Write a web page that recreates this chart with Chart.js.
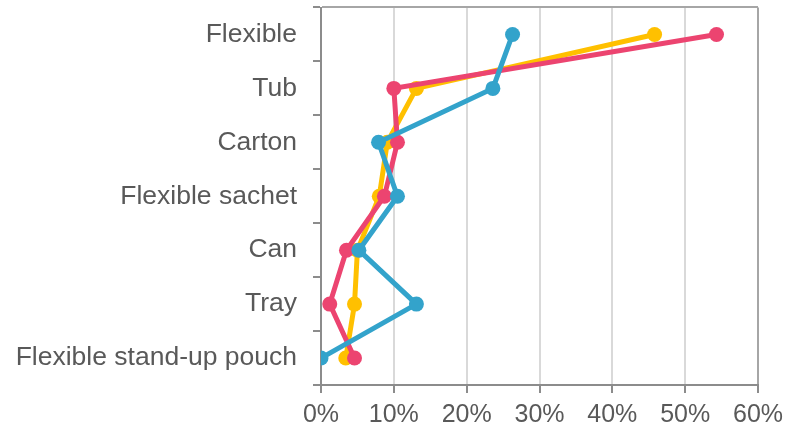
<!DOCTYPE html>
<html>
<head>
<meta charset="utf-8">
<script src="https://cdn.jsdelivr.net/npm/chart.js@4/dist/chart.umd.min.js"></script>
<style>
  html, body { margin: 0; padding: 0; background: #fff; }
  #wrap { width: 798px; height: 439px; }
</style>
</head>
<body>
<div id="wrap"><canvas id="chart"></canvas></div>
<script>
// packaging formats, top to bottom
var categories = ['Flexible', 'Tub', 'Carton', 'Flexible sachet', 'Can', 'Tray', 'Flexible stand-up pouch'];

// shares in percent
var yellowValues = [45.8, 13.1, 9.1, 8.0, 5.0, 4.6, 3.4];
var pinkValues = [54.3, 10.0, 10.5, 8.7, 3.5, 1.2, 4.6];
var blueValues = [26.3, 23.6, 7.9, 10.5, 5.2, 13.1, 0.0];

var xTicks = [0, 10, 20, 30, 40, 50, 60];

var axisGray = '#8c8c8c';
var labelGray = '#595959';

function series(data, color, order) {
	return {
		data: data,
		borderColor: color,
		backgroundColor: color,
		borderWidth: 5,
		pointRadius: 7.5,
		pointHoverRadius: 7.5,
		pointBorderWidth: 0,
		tension: 0,
		order: order
	};
}

Chart.defaults.font.family = '"Liberation Sans", Arial, sans-serif';
Chart.defaults.color = labelGray;

new Chart(document.getElementById('chart'), {
	type: 'line',
	data: {
		labels: categories,
		datasets: [
			series(blueValues, '#33a3cb', 0),
			series(pinkValues, '#ec4470', 1),
			series(yellowValues, '#ffc000', 2)
		]
	},
	options: {
		indexAxis: 'y',
		responsive: true,
		maintainAspectRatio: false,
		animation: false,
		layout: { padding: { top: 7, right: 40, bottom: 0, left: 0 } },
		plugins: {
			legend: { display: false },
			tooltip: { enabled: false }
		},
		scales: {
			x: {
				type: 'linear',
				min: 0,
				max: 60,
				afterBuildTicks: function (scale) {
					scale.ticks = xTicks.map(function (v) { return { value: v }; });
				},
				afterFit: function (scale) { scale.height = 54; },
				border: { color: axisGray, width: 2 },
				grid: {
					color: function (ctx) {
						if (ctx.tick && ctx.tick.value === 60) return '#a6a6a6';
						return '#d9d9d9';
					},
					lineWidth: 2,
					tickColor: axisGray,
					tickLength: 8
				},
				ticks: {
					padding: 7,
					font: { size: 25 },
					color: labelGray,
					callback: function (v) { return v + '%'; }
				}
			},
			y: {
				type: 'category',
				offset: true,
				afterFit: function (scale) {
					scale.width = 321;
					// keep the label heights from pushing the plot down
					scale.paddingTop = 0;
					scale.paddingBottom = 0;
				},
				border: { color: axisGray, width: 2 },
				grid: {
					offset: true,
					drawOnChartArea: true,
					color: function (ctx) {
						return ctx.index === 0 ? '#a6a6a6' : 'rgba(0,0,0,0)';
					},
					lineWidth: 2,
					tickColor: axisGray,
					tickLength: 8
				},
				ticks: {
					padding: 16,
					font: { size: 26.5 },
					color: labelGray
				}
			}
		}
	}
});
</script>
</body>
</html>
